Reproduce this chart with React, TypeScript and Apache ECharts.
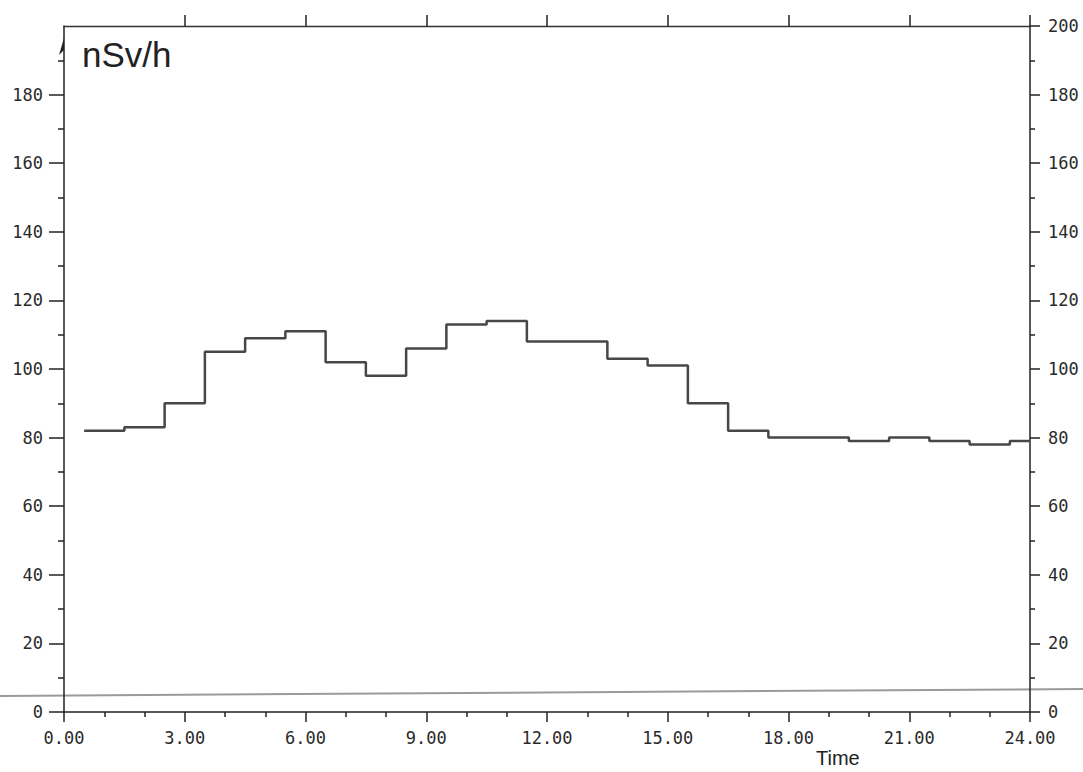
import React, { useEffect, useRef } from "react";
import * as echarts from "echarts";

// Hourly mean dose rate (nSv/h), hour h covers [h-0.5, h+0.5]
const hours = [1, 2, 3, 4, 5, 6, 7, 8, 9, 10, 11, 12, 13, 14, 15, 16, 17, 18, 19, 20, 21, 22, 23, 24];
const doseRate = [82, 83, 90, 105, 109, 111, 102, 98, 106, 113, 114, 108, 108, 103, 101, 90, 82, 80, 80, 79, 80, 79, 78, 79];
const xMin = 0;
const xMax = 24;
const xInterval = 3;
const topTickValues = [3, 6, 9, 12, 15, 18, 21, 24];
const yMin = 0;
const yMax = 200;
const yInterval = 20;
const leftTickValues = [0, 20, 40, 60, 80, 100, 120, 140, 160, 180];
const unitLabel = "nSv/h";
const xName = "Time";

export default function App() {
  const ref = useRef<HTMLDivElement>(null);

  useEffect(() => {
    if (!ref.current) return;
    const chart = echarts.init(ref.current, undefined, { renderer: "svg" });

    const stepData: number[][] = hours.map((h, i) => [h - 0.5, doseRate[i]]);
    stepData.push([xMax, doseRate[doseRate.length - 1]]);

    const axisColor = "#222";
    const lineStyle = { color: axisColor, width: 1.5 };
    const labelFont = {
      fontFamily: "DejaVu Sans Mono",
      fontSize: 17,
      color: "#2a2a2a",
    };

    chart.setOption({
      animation: false,
      backgroundColor: "#fff",
      grid: { left: 64, right: 53, top: 26, bottom: 60, containLabel: false },
      xAxis: [
        {
          type: "value",
          position: "bottom",
          min: xMin,
          max: xMax,
          interval: xInterval,
          axisLine: { show: true, onZero: false, lineStyle },
          axisTick: { show: true, inside: false, length: 10, lineStyle },
          minorTick: { show: true, splitNumber: 3, length: 5, lineStyle },
          axisLabel: {
            ...labelFont,
            margin: 17,
            formatter: (v: number) => v.toFixed(2),
          },
          splitLine: { show: false },
          minorSplitLine: { show: false },
        },
        {
          type: "value",
          position: "top",
          min: xMin,
          max: xMax,
          interval: xInterval,
          axisLine: { show: true, onZero: false, lineStyle: { color: "#333", width: 1.3 } },
          axisTick: {
            show: true,
            inside: false,
            length: 11,
            customValues: topTickValues,
            lineStyle,
          },
          axisLabel: { show: false },
          splitLine: { show: false },
        },
      ],
      yAxis: [
        {
          type: "value",
          position: "left",
          min: yMin,
          max: yMax,
          interval: yInterval,
          axisLine: { show: true, onZero: false, lineStyle },
          axisTick: {
            show: true,
            inside: false,
            length: 15,
            customValues: leftTickValues,
            lineStyle,
          },
          minorTick: { show: true, splitNumber: 2, length: 6, lineStyle },
          axisLabel: {
            ...labelFont,
            margin: 21,
            formatter: (v: number) => (v === yMax ? "" : String(v)),
          },
          splitLine: { show: false },
        },
        {
          type: "value",
          position: "right",
          min: yMin,
          max: yMax,
          interval: yInterval,
          axisLine: { show: true, onZero: false, lineStyle },
          axisTick: { show: true, inside: false, length: 10, lineStyle },
          minorTick: { show: true, splitNumber: 2, length: 5, lineStyle },
          axisLabel: { ...labelFont, margin: 18 },
          splitLine: { show: false },
        },
      ],
      series: [
        {
          type: "line",
          step: "end",
          xAxisIndex: 0,
          yAxisIndex: 0,
          symbol: "none",
          data: stepData,
          lineStyle: { color: "#474747", width: 2.5 },
        },
      ],
      graphic: [
        {
          type: "line",
          shape: { x1: 0, y1: 696, x2: 1083, y2: 689 },
          style: { stroke: "#9a9a9a", lineWidth: 2 },
          silent: true,
        },
        {
          type: "polygon",
          shape: { points: [[64, 38], [59, 55], [64, 50]] },
          style: { fill: "#222" },
          silent: true,
        },
        {
          type: "text",
          left: 82,
          top: 37,
          style: {
            text: unitLabel,
            font: "35px 'Liberation Sans', Arial, sans-serif",
            fill: "#222",
          },
        },
        {
          type: "text",
          left: 816,
          top: 748,
          style: {
            text: xName,
            font: "20px 'Liberation Sans', Arial, sans-serif",
            fill: "#222",
          },
        },
      ],
    });

    return () => chart.dispose();
  }, []);

  return (
    <div
      ref={ref}
      style={{ position: "absolute", left: 0, top: 0, width: 1083, height: 772 }}
    />
  );
}
